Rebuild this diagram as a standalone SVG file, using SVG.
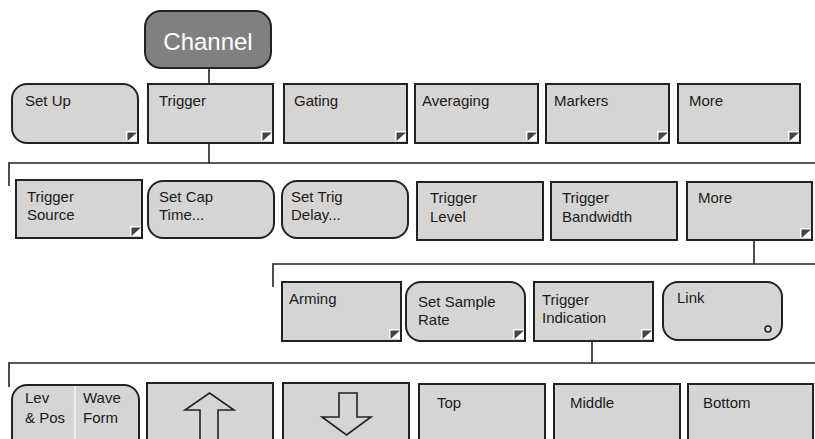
<svg xmlns="http://www.w3.org/2000/svg" width="815" height="439" viewBox="0 0 815 439">
<defs>
<style>
.box{fill:#d6d5d4;stroke:#222;stroke-width:2}
.lbl{font-family:"Liberation Sans",Arial,sans-serif;font-size:15px;fill:#1a1a1a}
.conn line{stroke:#222;stroke-width:1.6}
.mk-bg{fill:#fff}
.mk{fill:#444}
.arrow{fill:#d6d5d4;stroke:#222;stroke-width:1.6}
</style>
<g id="cm">
<rect class="mk-bg" x="0" y="0" width="11" height="10"/>
<polygon class="mk" points="1.5,1.5 11,1.5 1.5,10"/>
</g>
</defs>
<rect width="815" height="439" fill="#fff"/>

<g id="connectors" class="conn">
<line x1="209" y1="68" x2="209" y2="84"/>
<line x1="209" y1="143" x2="209" y2="163"/>
<line x1="9" y1="163" x2="815" y2="163"/>
<line x1="9" y1="162.2" x2="9" y2="186"/>
<line x1="754" y1="240" x2="754" y2="264"/>
<line x1="273" y1="264" x2="815" y2="264"/>
<line x1="273" y1="263.2" x2="273" y2="287"/>
<line x1="592" y1="341" x2="592" y2="363"/>
<line x1="9" y1="363" x2="815" y2="363"/>
<line x1="9" y1="362.2" x2="9" y2="387"/>
</g>

<g id="channel">
<rect x="145" y="11" width="126" height="57" rx="16" fill="#808080" stroke="#222" stroke-width="2"/>
<text x="208" y="50" text-anchor="middle" font-family="Liberation Sans,Arial,sans-serif" font-size="24" fill="#fff">Channel</text>
</g>

<g id="setup">
<path class="box" d="M27,84 H123 A15,15 0 0 1 138,99 V143 H27 A15,15 0 0 1 12,128 V99 A15,15 0 0 1 27,84 Z"/>
<text class="lbl" x="25" y="106">Set Up</text>
<use href="#cm" x="126" y="131"/>
</g>
<g id="trigger">
<rect class="box" x="148" y="84" width="125" height="59"/>
<text class="lbl" x="159" y="106">Trigger</text>
<use href="#cm" x="261" y="131"/>
</g>
<g id="gating">
<rect class="box" x="284" y="84" width="123" height="59"/>
<text class="lbl" x="294" y="106">Gating</text>
<use href="#cm" x="395" y="131"/>
</g>
<g id="averaging">
<rect class="box" x="415" y="84" width="123" height="59"/>
<text class="lbl" x="422" y="106">Averaging</text>
<use href="#cm" x="526" y="131"/>
</g>
<g id="markers">
<rect class="box" x="546" y="84" width="123" height="59"/>
<text class="lbl" x="554" y="106">Markers</text>
<use href="#cm" x="657" y="131"/>
</g>
<g id="more1">
<rect class="box" x="678" y="84" width="122" height="59"/>
<text class="lbl" x="689" y="106">More</text>
<use href="#cm" x="788" y="131"/>
</g>

<g id="trigger-source">
<rect class="box" x="16" y="180" width="126" height="58"/>
<text class="lbl" x="27" y="202">Trigger</text>
<text class="lbl" x="27" y="220">Source</text>
<use href="#cm" x="130" y="226"/>
</g>
<g id="set-cap-time">
<rect class="box" x="148" y="181" width="126" height="57" rx="15"/>
<text class="lbl" x="159" y="202">Set Cap</text>
<text class="lbl" x="159" y="220">Time...</text>
</g>
<g id="set-trig-delay">
<rect class="box" x="282" y="181" width="126" height="57" rx="15"/>
<text class="lbl" x="291" y="202">Set Trig</text>
<text class="lbl" x="291" y="220">Delay...</text>
</g>
<g id="trigger-level">
<rect class="box" x="417" y="182" width="126" height="58"/>
<text class="lbl" x="430" y="203">Trigger</text>
<text class="lbl" x="430" y="222">Level</text>
</g>
<g id="trigger-bandwidth">
<rect class="box" x="551" y="182" width="126" height="58"/>
<text class="lbl" x="562" y="203">Trigger</text>
<text class="lbl" x="562" y="222">Bandwidth</text>
</g>
<g id="more2">
<rect class="box" x="687" y="182" width="125" height="58"/>
<text class="lbl" x="698" y="203">More</text>
<use href="#cm" x="800" y="228"/>
</g>

<g id="arming">
<rect class="box" x="282" y="282" width="119" height="59"/>
<text class="lbl" x="289" y="304">Arming</text>
<use href="#cm" x="389" y="329"/>
</g>
<g id="set-sample-rate">
<path class="box" d="M421,282 H510 A15,15 0 0 1 525,297 V341 H421 A15,15 0 0 1 406,326 V297 A15,15 0 0 1 421,282 Z"/>
<text class="lbl" x="418" y="307">Set Sample</text>
<text class="lbl" x="418" y="325">Rate</text>
<use href="#cm" x="513" y="329"/>
</g>
<g id="trigger-indication">
<rect class="box" x="534" y="282" width="119" height="59"/>
<text class="lbl" x="542" y="305">Trigger</text>
<text class="lbl" x="542" y="323">Indication</text>
<use href="#cm" x="641" y="329"/>
</g>
<g id="link">
<rect class="box" x="663" y="282" width="119" height="58" rx="15"/>
<text class="lbl" x="677" y="303">Link</text>
<circle cx="768" cy="329" r="3" fill="none" stroke="#222" stroke-width="1.5"/>
</g>

<g id="levpos-waveform">
<rect class="box" x="12" y="385" width="127" height="70" rx="15"/>
<line x1="75" y1="386" x2="75" y2="439" stroke="#f4f4f4" stroke-width="1.5"/>
<text class="lbl" x="25" y="403">Lev</text>
<text class="lbl" x="25" y="423">&amp; Pos</text>
<text class="lbl" x="83" y="403">Wave</text>
<text class="lbl" x="83" y="423">Form</text>
</g>
<g id="up">
<rect class="box" x="147" y="383" width="126" height="70"/>
<polygon class="arrow" points="209.5,393 234,410 218,410 218,445 200,445 200,410 185,410"/>
</g>
<g id="down">
<rect class="box" x="283" y="383" width="126" height="70"/>
<polygon class="arrow" points="339,393 357,393 357,417 371,417 346.5,435 322,417 339,417"/>
</g>
<g id="top">
<rect class="box" x="419" y="384" width="126" height="70"/>
<text class="lbl" x="437" y="408">Top</text>
</g>
<g id="middle">
<rect class="box" x="554" y="384" width="126" height="70"/>
<text class="lbl" x="570" y="408">Middle</text>
</g>
<g id="bottom">
<rect class="box" x="688" y="384" width="125" height="70"/>
<text class="lbl" x="703" y="408">Bottom</text>
</g>
</svg>
